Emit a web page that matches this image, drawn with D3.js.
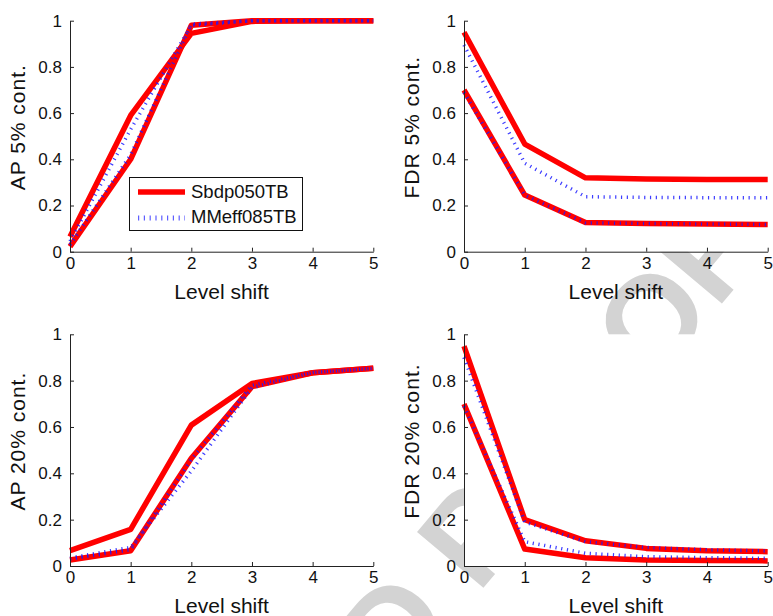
<!DOCTYPE html>
<html>
<head>
<meta charset="utf-8">
<script src="https://cdn.jsdelivr.net/npm/d3@7"></script>
<style>
  html, body { margin: 0; padding: 0; background: #fff; }
  svg { display: block; }
  text { font-family: "Liberation Sans", Arial, Helvetica, sans-serif; fill: #111; }
</style>
</head>
<body>
<svg id="chart" width="773" height="616"></svg>
<script>
// Shared x values and tick labels
const levelShift = [0, 1, 2, 3, 4, 5];
const yTickValues = [0, 0.2, 0.4, 0.6, 0.8, 1];
const yTickLabels = ["0", "0.2", "0.4", "0.6", "0.8", "1"];
const xTickLabels = ["0", "1", "2", "3", "4", "5"];
const seriesNames = ["Sbdp050TB", "MMeff085TB"];

// AP, 5% contamination
const ap5SbdpA  = [0.065, 0.590, 0.945, 0.997, 1.000, 1.000];
const ap5SbdpB  = [0.022, 0.400, 0.980, 1.000, 1.000, 1.000];
const ap5MmeffA = [0.045, 0.530, 0.980, 1.000, 1.000, 1.000];
const ap5MmeffB = [0.030, 0.420, 0.985, 1.000, 1.000, 1.000];

// FDR, 5% contamination
const fdr5SbdpA  = [0.950, 0.466, 0.320, 0.315, 0.313, 0.313];
const fdr5SbdpB  = [0.700, 0.245, 0.126, 0.122, 0.120, 0.118];
const fdr5MmeffA = [0.895, 0.383, 0.238, 0.235, 0.234, 0.233];
const fdr5MmeffB = [0.690, 0.245, 0.125, 0.122, 0.120, 0.118];

// AP, 20% contamination
const ap20SbdpA  = [0.066, 0.158, 0.608, 0.788, 0.834, 0.853];
const ap20SbdpB  = [0.026, 0.066, 0.465, 0.774, 0.834, 0.853];
const ap20MmeffA = [0.030, 0.070, 0.460, 0.780, 0.835, 0.853];
const ap20MmeffB = [0.035, 0.080, 0.410, 0.770, 0.835, 0.853];

// FDR, 20% contamination
const fdr20SbdpA  = [0.949, 0.200, 0.109, 0.076, 0.066, 0.062];
const fdr20SbdpB  = [0.699, 0.073, 0.036, 0.026, 0.024, 0.022];
const fdr20MmeffA = [0.900, 0.190, 0.105, 0.080, 0.070, 0.065];
const fdr20MmeffB = [0.690, 0.105, 0.055, 0.040, 0.036, 0.033];

const RED = "#ff0000";
const BLUE = "#1a1aff";

const svg = d3.select("#chart");
svg.append("rect").attr("width", 773).attr("height", 616).attr("fill", "#fff");

// Proof watermark, sitting behind the white plot areas
svg.append("text")
  .attr("transform", "translate(766,251) rotate(-50)")
  .attr("text-anchor", "end")
  .style("font-size", "126px")
  .style("font-weight", "bold")
  .style("fill", "#d3d3d3")
  .text("UNCORRECTED PROOF");

const panels = [
  { left: 70,  right: 373.3, top: 20.7,  bottom: 251.7, ylabel: "AP 5% cont.",
    red: [ap5SbdpA, ap5SbdpB], blue: [ap5MmeffA, ap5MmeffB], legend: true },
  { left: 464, right: 767.7, top: 20.7,  bottom: 251.7, ylabel: "FDR 5% cont.",
    red: [fdr5SbdpA, fdr5SbdpB], blue: [fdr5MmeffA, fdr5MmeffB] },
  { left: 70,  right: 373.3, top: 334.3, bottom: 566,   ylabel: "AP 20% cont.",
    red: [ap20SbdpA, ap20SbdpB], blue: [ap20MmeffA, ap20MmeffB] },
  { left: 464, right: 767.7, top: 334.3, bottom: 566,   ylabel: "FDR 20% cont.",
    red: [fdr20SbdpA, fdr20SbdpB], blue: [fdr20MmeffA, fdr20MmeffB] }
];

panels.forEach(p => {
  const x = d3.scaleLinear().domain([0, 5]).range([p.left, p.right]);
  const y = d3.scaleLinear().domain([0, 1]).range([p.bottom, p.top]);
  const g = svg.append("g");

  // white plot area
  g.append("rect")
    .attr("x", p.left).attr("y", p.top)
    .attr("width", p.right - p.left).attr("height", p.bottom - p.top)
    .attr("fill", "#fff");

  const line = d3.line().x((d, i) => x(levelShift[i])).y(d => y(d));

  p.red.forEach(vals => {
    g.append("path").datum(vals).attr("d", line)
      .attr("fill", "none").attr("stroke", RED)
      .attr("stroke-width", 5.5).attr("stroke-linejoin", "round");
  });
  p.blue.forEach(vals => {
    g.append("path").datum(vals).attr("d", line)
      .attr("fill", "none").attr("stroke", BLUE).attr("stroke-opacity", 0.85)
      .attr("stroke-width", 3.5).attr("stroke-dasharray", "1.2,4.6");
  });

  const xAxis = d3.axisBottom(x).tickValues(levelShift)
    .tickFormat((d, i) => xTickLabels[i]).tickSizeInner(-4).tickSizeOuter(0).tickPadding(5);
  const yAxis = d3.axisLeft(y).tickValues(yTickValues)
    .tickFormat((d, i) => yTickLabels[i]).tickSizeInner(-4).tickSizeOuter(0).tickPadding(8);

  const gx = g.append("g").attr("transform", `translate(0,${p.bottom})`).call(xAxis);
  const gy = g.append("g").attr("transform", `translate(${p.left},0)`).call(yAxis);
  [gx, gy].forEach(a => {
    a.select(".domain").attr("stroke", "#222").attr("stroke-width", 1);
    a.selectAll(".tick line").attr("stroke", "#222");
    a.selectAll(".tick text").style("font-size", "17px").style("fill", "#111")
      .attr("font-family", null);
  });

  g.append("text")
    .attr("x", (p.left + p.right) / 2).attr("y", p.bottom + 47)
    .attr("text-anchor", "middle").style("font-size", "21px")
    .text("Level shift");

  g.append("text")
    .attr("transform", `translate(${p.left - 45},${(p.top + p.bottom) / 2 - 9}) rotate(-90)`)
    .attr("text-anchor", "middle").style("font-size", "21px")
    .style("letter-spacing", "1px")
    .text(p.ylabel);

  if (p.legend) {
    const lg = g.append("g");
    lg.append("rect").attr("x", 129.5).attr("y", 177.5).attr("width", 173).attr("height", 53)
      .attr("fill", "#fff").attr("stroke", "#111").attr("stroke-width", 1);
    lg.append("line").attr("x1", 138).attr("x2", 185).attr("y1", 192).attr("y2", 192)
      .attr("stroke", RED).attr("stroke-width", 5.5);
    lg.append("line").attr("x1", 138).attr("x2", 185).attr("y1", 218).attr("y2", 218)
      .attr("stroke", BLUE).attr("stroke-opacity", 0.7)
      .attr("stroke-width", 5).attr("stroke-dasharray", "1.2,4.6");
    lg.append("text").attr("x", 191).attr("y", 198).style("font-size", "18.5px").text(seriesNames[0]);
    lg.append("text").attr("x", 191).attr("y", 223).style("font-size", "18.5px").text(seriesNames[1]);
  }
});
</script>
</body>
</html>
